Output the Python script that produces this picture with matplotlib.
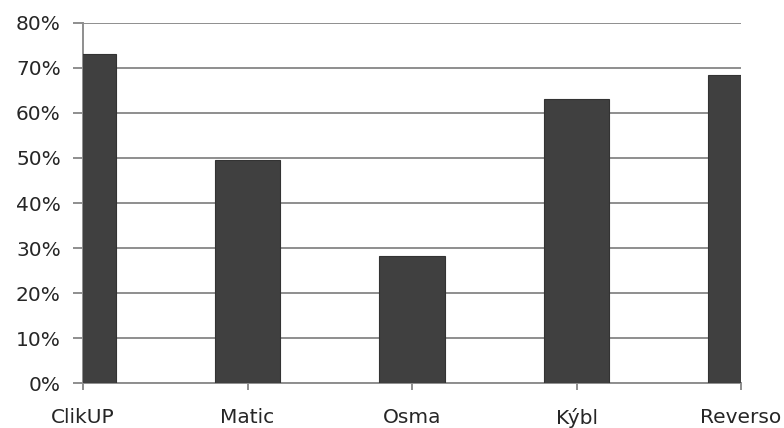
import numpy as np
import matplotlib.pyplot as plt
from matplotlib.ticker import FuncFormatter

# podíl odpovědí pro jednotlivé aplikace
apps = ['ClikUP', 'Matic', 'Osma', 'Kýbl', 'Reverso']
shares = [73.0, 49.6, 28.2, 63.0, 68.4]
y_ticks = [0, 10, 20, 30, 40, 50, 60, 70, 80]

plt.rcParams['font.family'] = ['DejaVu Sans']

fig = plt.figure(figsize=(7.84, 4.28), dpi=100)
ax = fig.add_axes([0.1059, 0.1051, 0.8393, 0.8412])

x = np.arange(len(apps))
ax.bar(x, shares, width=0.4, color='#404040', edgecolor='#333333',
       linewidth=0.8, zorder=3)

# osa x jde od středu první do středu poslední kategorie
ax.set_xlim(x[0], x[-1])
ax.set_ylim(0, 80)
ax.set_xticks(x)
ax.set_xticklabels(apps)
ax.set_yticks(y_ticks)
ax.yaxis.set_major_formatter(FuncFormatter(lambda v, p: f'{v:.0f}%'))

ax.grid(axis='y', color='#8e8e8e', linewidth=1.4, zorder=0)
for side in ['top', 'right']:
    ax.spines[side].set_visible(False)
ax.spines['left'].set_color('#8e8e8e')
ax.spines['bottom'].set_color('#8e8e8e')
ax.spines['left'].set_linewidth(1.4)
ax.spines['bottom'].set_linewidth(1.4)

ax.tick_params(axis='y', length=7, width=1.4, color='#8e8e8e',
               labelsize=14.5, labelcolor='#262626', pad=9)
ax.tick_params(axis='x', length=5, width=1.4, color='#8e8e8e',
               labelsize=14.5, labelcolor='#262626', pad=13)

fig.savefig('out.png', dpi=100)
